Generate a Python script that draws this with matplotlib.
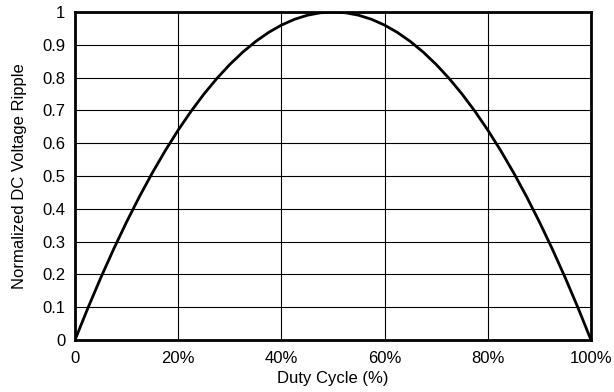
import matplotlib
matplotlib.use("Agg")
import matplotlib.pyplot as plt

plt.rcParams['font.family'] = ['Liberation Sans', 'DejaVu Sans']

duty_cycle = [0.0, 0.025, 0.05, 0.075, 0.1, 0.125, 0.15, 0.175, 0.2, 0.225,
              0.25, 0.275, 0.3, 0.325, 0.35, 0.375, 0.4, 0.425, 0.45, 0.475,
              0.5, 0.525, 0.55, 0.575, 0.6, 0.625, 0.65, 0.675, 0.7, 0.725,
              0.75, 0.775, 0.8, 0.825, 0.85, 0.875, 0.9, 0.925, 0.95, 0.975, 1.0]
ripple = [0.0, 0.0975, 0.19, 0.2775, 0.36, 0.4375, 0.51, 0.5775, 0.64, 0.6975,
          0.75, 0.7975, 0.84, 0.8775, 0.91, 0.9375, 0.96, 0.9775, 0.99, 0.9975,
          1.0, 0.9975, 0.99, 0.9775, 0.96, 0.9375, 0.91, 0.8775, 0.84, 0.7975,
          0.75, 0.6975, 0.64, 0.5775, 0.51, 0.4375, 0.36, 0.2775, 0.19, 0.0975, 0.0]

x_ticks = [0, 0.2, 0.4, 0.6, 0.8, 1.0]
x_labels = ['0', '20%', '40%', '60%', '80%', '100%']
y_ticks = [0, 0.1, 0.2, 0.3, 0.4, 0.5, 0.6, 0.7, 0.8, 0.9, 1.0]
y_labels = ['0', '0.1', '0.2', '0.3', '0.4', '0.5', '0.6', '0.7', '0.8', '0.9', '1']

fig = plt.figure(figsize=(6.14, 3.92), dpi=100)
ax = fig.add_axes([75/614, 52/392, (591-75)/614, (340-12)/392])
ax.plot(duty_cycle, ripple, color='black', lw=2.0, solid_capstyle='butt', zorder=3)
ax.set_xlim(0, 1)
ax.set_ylim(0, 1)
ax.set_xticks(x_ticks)
ax.set_xticklabels(x_labels)
ax.set_yticks(y_ticks)
ax.set_yticklabels(y_labels)
ax.tick_params(axis='both', length=0, labelsize=12)
ax.tick_params(axis='x', pad=8)
ax.tick_params(axis='y', pad=7)
ax.grid(True, color='black', lw=0.8)
for s in ax.spines.values():
    s.set_linewidth(2)
    s.set_color('black')
ax.set_xlabel('Duty Cycle (%)', fontsize=12, labelpad=3.5)
ax.set_ylabel('Normalized DC Voltage Ripple', fontsize=12, labelpad=11)
fig.savefig('out.png', dpi=100)
